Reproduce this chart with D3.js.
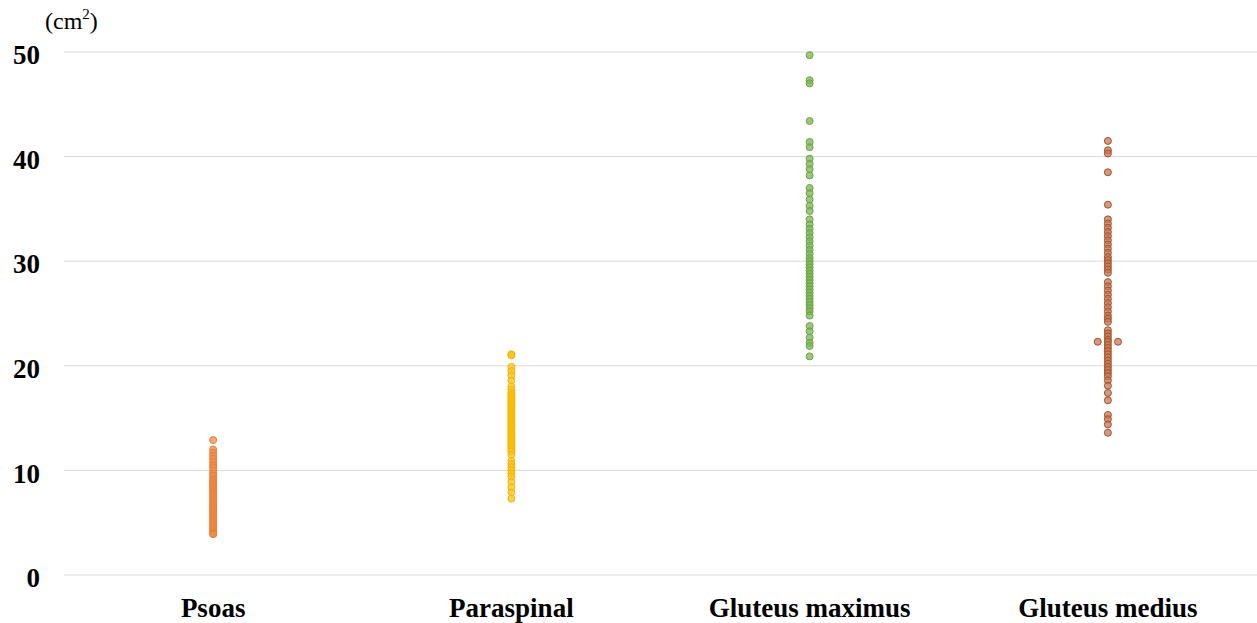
<!DOCTYPE html>
<html>
<head>
<meta charset="utf-8">
<script src="https://cdn.jsdelivr.net/npm/d3@7"></script>
<style>
  body { margin: 0; background: #fff; }
  svg { display: block; }
</style>
</head>
<body>
<div id="chart"></div>
<script>
// categories and their point values (cm2)
const categories = ["Psoas", "Paraspinal", "Gluteus maximus", "Gluteus medius"];

const psoas = [12.9, 12.0, 11.7, 11.4, 11.1, 10.8, 10.5, 10.3, 10.0, 9.7, 9.5, 9.2, 9.0, 8.8,
  8.6, 8.4, 8.2, 8.0, 7.8, 7.6, 7.4, 7.2, 7.0, 6.8, 6.6, 6.4, 6.2, 6.0, 5.8, 5.6, 5.4, 5.2,
  5.0, 4.8, 4.6, 4.4, 4.2, 4.0, 3.9];

const paraspinal = [21.1, 21.0, 19.9, 19.5, 19.1, 18.6, 18.0, 17.7, 17.4, 17.2, 17.0, 16.8,
  16.6, 16.4, 16.2, 16.0, 15.8, 15.6, 15.4, 15.2, 15.0, 14.8, 14.6, 14.4, 14.2, 14.0, 13.8,
  13.6, 13.4, 13.2, 13.0, 12.8, 12.6, 12.4, 12.2, 12.0, 11.8, 11.5, 10.9, 10.6, 10.3, 10.0,
  9.7, 9.4, 8.9, 8.4, 7.9, 7.3];

const gluteusMaximus = [49.7, 47.3, 47.0, 43.4, 41.4, 40.9, 39.8, 39.3, 38.8, 38.2, 37.0,
  36.5, 35.9, 35.3, 34.8, 34.0, 33.5, 33.1, 32.7, 32.3, 31.9, 31.5, 31.1, 30.7, 30.3, 30.0,
  29.7, 29.4, 29.1, 28.8, 28.5, 28.2, 27.9, 27.6, 27.3, 27.0, 26.7, 26.4, 26.1, 25.8, 25.5,
  25.2, 24.8, 23.8, 23.3, 22.7, 22.2, 21.9, 20.9];

const gluteusMedius = [41.5, 40.6, 40.3, 38.5, 35.4, 34.0, 33.6, 33.2, 32.8, 32.4, 32.0,
  31.6, 31.2, 30.8, 30.4, 30.1, 29.8, 29.5, 29.2, 28.9, 28.0, 27.6, 27.2, 26.8, 26.4, 26.0,
  25.6, 25.2, 24.8, 24.5, 24.2, 23.4, 23.1, 22.8, 22.5, 22.3, 22.3, 22.3, 22.0, 21.7, 21.4,
  21.1, 20.8, 20.5, 20.2, 19.9, 19.6, 19.3, 19.0, 18.6, 18.1, 17.4, 16.7, 15.3, 14.9, 14.4,
  13.6];

const seriesValues = [psoas, paraspinal, gluteusMaximus, gluteusMedius];
const fills = ["#F08C4E", "#FFC21A", "#7DB356", "#C4775A"];
const strokes = ["#ED7D31", "#F2B600", "#6AA544", "#A5521F"];
const yTicks = [0, 10, 20, 30, 40, 50];

const width = 1257, height = 623;
const margin = { top: 52, right: 0, bottom: 48, left: 64 };
const serif = "'Liberation Serif', 'Times New Roman', serif";

const svg = d3.select("#chart").append("svg")
  .attr("width", width)
  .attr("height", height);

const x = d3.scaleBand()
  .domain(categories)
  .range([margin.left, width - margin.right])
  .padding(0);

const y = d3.scaleLinear()
  .domain([0, 50])
  .range([height - margin.bottom, margin.top]);

// gridlines
svg.append("g")
  .selectAll("line")
  .data(yTicks)
  .join("line")
  .attr("x1", margin.left)
  .attr("x2", width - margin.right)
  .attr("y1", d => y(d))
  .attr("y2", d => y(d))
  .attr("stroke", "#d9d9d9")
  .attr("stroke-width", 1);

// y axis labels
const yAxis = svg.append("g")
  .attr("transform", `translate(${margin.left - 24},3)`)
  .call(d3.axisLeft(y).tickValues(yTicks).tickSize(0).tickPadding(0));
yAxis.select(".domain").remove();
yAxis.selectAll("text")
  .attr("font-family", serif)
  .attr("font-size", 27)
  .attr("font-weight", "bold")
  .attr("fill", "#000");

// unit label
const unit = svg.append("text")
  .attr("x", 45)
  .attr("y", 29)
  .attr("font-family", serif)
  .attr("font-size", 24)
  .attr("fill", "#000");
unit.append("tspan").text("(cm");
unit.append("tspan").attr("font-size", 15).attr("dy", -10).text("2");
unit.append("tspan").attr("dy", 10).text(")");

// x category labels
const xAxis = svg.append("g")
  .attr("transform", `translate(0,${height - margin.bottom})`)
  .call(d3.axisBottom(x).tickSize(0).tickPadding(23));
xAxis.select(".domain").remove();
xAxis.selectAll("text")
  .attr("font-family", serif)
  .attr("font-size", 27)
  .attr("font-weight", "bold")
  .attr("fill", "#000")
  .attr("dy", "0.71em");

// points; repeated values are dodged sideways
const r = 3.5;
categories.forEach((cat, i) => {
  const counts = d3.rollup(seriesValues[i], v => v.length, d => d);
  const seen = new Map();
  const pts = seriesValues[i].map(v => {
    const n = counts.get(v);
    const k = seen.get(v) || 0;
    seen.set(v, k + 1);
    return { v, off: (k - (n - 1) / 2) * r * 2.9 };
  });
  const cx = x(cat) + x.bandwidth() / 2;
  svg.append("g")
    .selectAll("circle")
    .data(pts)
    .join("circle")
    .attr("cx", d => cx + d.off)
    .attr("cy", d => y(d.v))
    .attr("r", r)
    .attr("fill", fills[i])
    .attr("fill-opacity", 0.75)
    .attr("stroke", strokes[i])
    .attr("stroke-width", 1);
});
</script>
</body>
</html>
